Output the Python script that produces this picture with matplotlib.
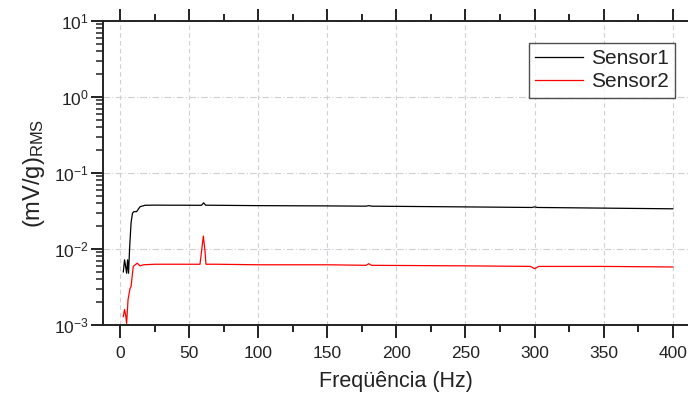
import matplotlib
matplotlib.use("Agg")
import matplotlib.pyplot as plt
from matplotlib.ticker import LogLocator, MultipleLocator, NullFormatter

plt.rcParams['font.family'] = ['Liberation Sans', 'DejaVu Sans']
plt.rcParams['mathtext.fontset'] = 'custom'
plt.rcParams['mathtext.rm'] = 'Liberation Sans'
plt.rcParams['mathtext.it'] = 'Liberation Sans:italic'
plt.rcParams['mathtext.bf'] = 'Liberation Sans:bold'

# Sensor1 (black)
f1 = [2.4, 3.3, 4.0, 4.8, 5.5, 6.2, 7.0, 8.0, 9.0, 10.0, 12.0, 14.5, 18, 25, 35, 45, 55, 59, 60.5, 62, 70, 100,
      150, 178, 180, 182, 200, 250, 298, 300, 302, 350, 400]
s1 = [0.0050, 0.0072, 0.0060, 0.0048, 0.0072, 0.0048, 0.0107, 0.022, 0.0295, 0.031, 0.031, 0.036, 0.0376,
      0.0378, 0.0377, 0.0377, 0.0376, 0.0376, 0.0405, 0.0377, 0.0376, 0.0372, 0.0369, 0.0366, 0.0372, 0.0366,
      0.0364, 0.0358, 0.0352, 0.0358, 0.0352, 0.0345, 0.0338]

# Sensor2 (red)
f2 = [2.4, 3.3, 4.1, 4.8, 5.8, 7.2, 8.0, 9.6, 11, 12.5, 14.5, 17, 25, 40, 57.9, 60.3, 61.5, 62.2, 70, 100,
      150, 178, 180, 182, 250, 297, 300, 303, 350, 400]
s2 = [0.00129, 0.0016, 0.00135, 0.00105, 0.00214, 0.0030, 0.0032, 0.0059, 0.0062, 0.0065, 0.0060, 0.0062,
      0.0063, 0.0063, 0.0063, 0.0148, 0.0095, 0.0063, 0.0063, 0.0062, 0.0062, 0.0061, 0.0064, 0.0061, 0.0060,
      0.0059, 0.0055, 0.0059, 0.0059, 0.0058]

fig = plt.figure(figsize=(6.88, 3.94), dpi=100)
ax = fig.add_axes([103/688, (394-325)/394, 1 - 103/688, (325-21)/394])

ax.plot(f1, s1, color='black', lw=0.9, label='Sensor1')
ax.plot(f2, s2, color='#ff0000', lw=0.9, label='Sensor2')

ax.set_yscale('log')
ax.set_ylim(1e-3, 10)
ax.set_xlim(-12.3, 411)
ax.xaxis.set_major_locator(MultipleLocator(50))
ax.xaxis.set_minor_locator(MultipleLocator(25))
ax.yaxis.set_major_locator(LogLocator(base=10, numticks=10))
ax.yaxis.set_minor_locator(LogLocator(base=10, subs=range(2, 10), numticks=50))
ax.yaxis.set_minor_formatter(NullFormatter())

ax.grid(True, which='major', axis='x', color='#cfcfd6', ls=(0, (4, 3)), lw=0.8)
ax.grid(True, which='major', axis='y', color='#cfcfd6', ls=(0, (6, 2, 1, 2)), lw=0.8)

for s in ['left', 'bottom', 'top']:
    ax.spines[s].set_linewidth(1.4)
    ax.spines[s].set_color('#222222')
ax.spines['right'].set_visible(False)

ax.tick_params(axis='x', which='major', direction='out', length=9, width=1.4, top=True,
               labelsize=12.5, colors='#222222', pad=6)
ax.tick_params(axis='x', which='minor', direction='out', length=5, width=1.4, top=True, colors='#222222')
ax.tick_params(axis='y', which='major', direction='out', length=9, width=1.4, labelsize=12.5,
               pad=1, colors='#222222')
ax.tick_params(axis='y', which='minor', direction='out', length=5, width=1.1, colors='#222222')

ax.set_xlabel('Freqüência (Hz)', fontsize=15.5, color='#222222', labelpad=7)
ax.set_ylabel(r'(mV/g)$_{\mathrm{RMS}}$', fontsize=17, color='#222222', labelpad=5)

leg = ax.legend(loc='upper right', bbox_to_anchor=(0.978, 0.928), fontsize=15, frameon=True,
                fancybox=False, edgecolor='#222222', handlelength=2.3, borderpad=0.3,
                labelspacing=0.2, handletextpad=0.4, borderaxespad=0)
leg.get_frame().set_linewidth(1.0)
for t in leg.get_texts():
    t.set_color('#222222')

fig.savefig('out.png', dpi=100)
